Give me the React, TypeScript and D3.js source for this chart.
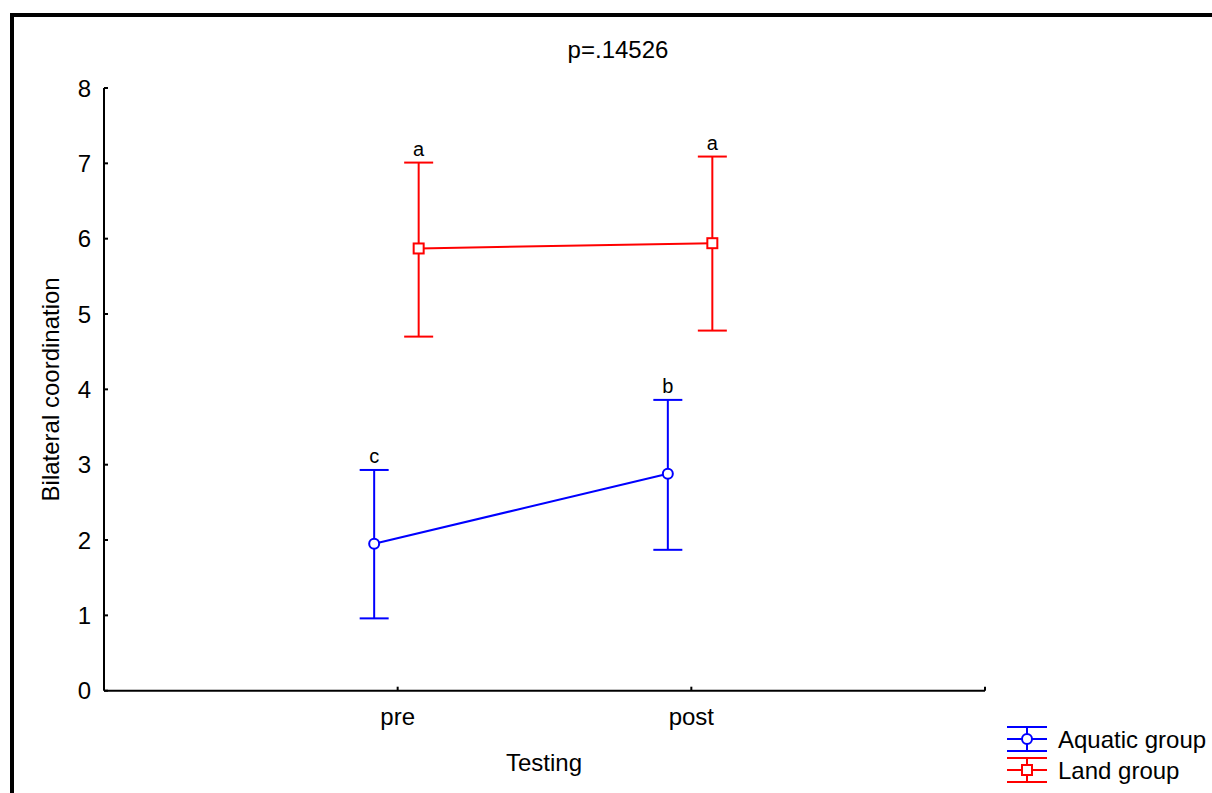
import React from 'react';
import * as d3 from 'd3';

const categories = ['pre', 'post'];
const yTicks = [0, 1, 2, 3, 4, 5, 6, 7, 8];

const aquaticMean = [1.95, 2.88];
const aquaticLow = [0.96, 1.87];
const aquaticHigh = [2.93, 3.86];
const aquaticLetters = ['c', 'b'];

const landMean = [5.87, 5.94];
const landLow = [4.70, 4.78];
const landHigh = [7.01, 7.09];
const landLetters = ['a', 'a'];

const title = 'p=.14526';
const xTitle = 'Testing';
const yTitle = 'Bilateral coordination';
const seriesNames = ['Aquatic group', 'Land group'];

const W = 1212;
const H = 793;
const FONT = 'Arial, "Liberation Sans", sans-serif';
const FS = 24;

export default function App() {
  const x = d3.scaleLinear().domain([0, 3]).range([104, 985]);
  const y = d3.scaleLinear().domain([0, 8]).range([690.7, 88]);

  const series = [
    { name: seriesNames[0], mean: aquaticMean, low: aquaticLow, high: aquaticHigh, letters: aquaticLetters, color: '#0000ff', dx: -23.5, marker: 'circle' },
    { name: seriesNames[1], mean: landMean, low: landLow, high: landHigh, letters: landLetters, color: '#ff0000', dx: 21, marker: 'square' },
  ];

  const line = d3.line<number>()
    .x((d, i) => x(i + 1))
    .y(d => y(d));

  const cap = 14.5;

  return (
    <svg width={W} height={H} style={{ position: 'absolute', left: 0, top: 0 }} fontFamily={FONT}>
      <rect width={W} height={H} fill="#fff" />
      {/* frame */}
      <line x1={10} x2={W} y1={15} y2={15} stroke="#000" strokeWidth={4} />
      <line x1={12} x2={12} y1={13} y2={H} stroke="#000" strokeWidth={4} />

      <text x={618} y={58} fontSize={FS} textAnchor="middle">{title}</text>

      {/* y axis */}
      <line x1={104} x2={104} y1={y(8)} y2={y(0)} stroke="#000" strokeWidth={2} />
      {yTicks.map(t => (
        <g key={t}>
          <line x1={104} x2={108} y1={y(t)} y2={y(t)} stroke="#000" strokeWidth={2} />
          <text x={91} y={y(t)} dy="0.36em" fontSize={FS} textAnchor="end">{t}</text>
        </g>
      ))}
      <text transform={`translate(59,${(y(0) + y(8)) / 2}) rotate(-90)`} fontSize={FS} textAnchor="middle">{yTitle}</text>

      {/* x axis */}
      <line x1={x(0)} x2={x(3)} y1={y(0)} y2={y(0)} stroke="#000" strokeWidth={2} />
      <line x1={x(3)} x2={x(3)} y1={y(0)} y2={y(0) - 4} stroke="#000" strokeWidth={2} />
      {categories.map((c, i) => (
        <g key={c}>
          <line x1={x(i + 1)} x2={x(i + 1)} y1={y(0)} y2={y(0) - 4} stroke="#000" strokeWidth={2} />
          <text x={x(i + 1)} y={725} fontSize={FS} textAnchor="middle">{c}</text>
        </g>
      ))}
      <text x={544} y={771} fontSize={FS} textAnchor="middle">{xTitle}</text>

      {/* series */}
      {series.map(s => (
        <g key={s.name} stroke={s.color} strokeWidth={2} fill="none">
          <path d={line(s.mean) || ''} transform={`translate(${s.dx},0)`} />
          {s.mean.map((m, i) => {
            const cx = x(i + 1) + s.dx;
            return (
              <g key={i}>
                <line x1={cx} x2={cx} y1={y(s.low[i])} y2={y(s.high[i])} />
                <line x1={cx - cap} x2={cx + cap} y1={y(s.low[i])} y2={y(s.low[i])} />
                <line x1={cx - cap} x2={cx + cap} y1={y(s.high[i])} y2={y(s.high[i])} />
                {s.marker === 'circle'
                  ? <circle cx={cx} cy={y(m)} r={5} fill="#fff" />
                  : <rect x={cx - 5} y={y(m) - 5} width={10} height={10} fill="#fff" />}
                <text x={cx} y={y(s.high[i]) - 7} fontSize={20} textAnchor="middle" fill="#000" stroke="none">{s.letters[i]}</text>
              </g>
            );
          })}
        </g>
      ))}

      {/* legend */}
      {series.map((s, k) => {
        const cy = 739 + k * 31;
        const lx = 1027;
        return (
          <g key={s.name}>
            <g stroke={s.color} strokeWidth={2} fill="none">
              <line x1={1007} x2={1047} y1={cy - 12} y2={cy - 12} />
              <line x1={1007} x2={1047} y1={cy} y2={cy} />
              <line x1={1007} x2={1047} y1={cy + 12} y2={cy + 12} />
              <line x1={lx} x2={lx} y1={cy - 12} y2={cy + 12} />
              {s.marker === 'circle'
                ? <circle cx={lx} cy={cy} r={5} fill="#fff" />
                : <rect x={lx - 5} y={cy - 5} width={10} height={10} fill="#fff" />}
            </g>
            <text x={1058} y={cy + 9} fontSize={FS}>{s.name}</text>
          </g>
        );
      })}
    </svg>
  );
}
